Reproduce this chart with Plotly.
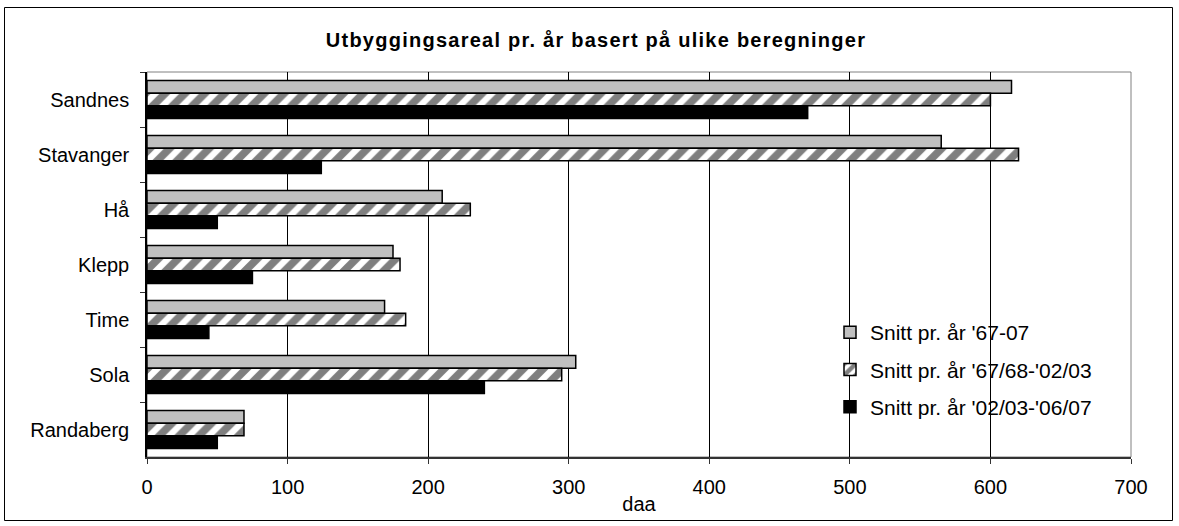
import plotly.graph_objects as go

categories = ["Sandnes", "Stavanger", "Hå", "Klepp", "Time", "Sola", "Randaberg"]
series_names = ["Snitt pr. år '67-07", "Snitt pr. år '67/68-'02/03", "Snitt pr. år '02/03-'06/07"]
snitt_67_07 = [615, 565, 210, 175, 169, 305, 69]
snitt_6768_0203 = [600, 620, 230, 180, 184, 295, 69]
snitt_0203_0607 = [470, 124, 50, 75, 44, 240, 50]
x_ticks = [0, 100, 200, 300, 400, 500, 600, 700]

FONT = "Liberation Sans, Arial, sans-serif"
W, H = 1179, 526
L, R, T, B = 147, 48, 72, 69

fig = go.Figure()
fig.add_trace(go.Bar(
    y=categories, x=snitt_67_07, name=series_names[0], orientation="h",
    marker=dict(color="#C0C0C0", line=dict(color="black", width=1.5)),
    legendgroup="a"))
fig.add_trace(go.Bar(
    y=categories, x=snitt_6768_0203, name=series_names[1], orientation="h",
    marker=dict(color="white", line=dict(color="black", width=1.5),
                pattern=dict(shape="/", fgcolor="black", bgcolor="white",
                             size=14, solidity=0.55, fillmode="overlay")),
    legendgroup="b"))
fig.add_trace(go.Bar(
    y=categories, x=snitt_0203_0607, name=series_names[2], orientation="h",
    marker=dict(color="black", line=dict(color="black", width=1.5)),
    legendgroup="c"))

pw = W - L - R
ph = H - T - B

def px_x(p):
    return (p - L) / pw

def px_y(p):
    return (H - B - p) / ph

shapes = [
    # outer chart border
    dict(type="rect", xref="paper", yref="paper",
         x0=px_x(4.5), x1=px_x(1172.5), y0=px_y(520.5), y1=px_y(7.5),
         line=dict(color="black", width=1), layer="below"),
    # plot area border (gray)
    dict(type="rect", xref="paper", yref="paper", x0=0, x1=1, y0=0, y1=1,
         line=dict(color="#808080", width=1), layer="below"),
]

fig.update_layout(
    width=W, height=H,
    margin=dict(l=L, r=R, t=T, b=B, pad=0, autoexpand=False),
    paper_bgcolor="white", plot_bgcolor="white",
    font=dict(family=FONT, size=20, color="black"),
    barmode="group", bargap=0.31, bargroupgap=0,
    title=dict(text="<span style='letter-spacing:1.25px'><b>Utbyggingsareal pr. år basert på ulike beregninger</b></span>",
               x=596 / W, xref="container", xanchor="center",
               y=1 - 40 / H, yref="container", yanchor="middle",
               font=dict(family=FONT, size=20, color="black")),
    showlegend=True,
    legend=dict(x=px_x(830), y=px_y(312), xanchor="left", yanchor="top",
                bgcolor="rgba(0,0,0,0)", borderwidth=0,
                font=dict(family=FONT, size=21, color="black"),
                tracegroupgap=7, traceorder="grouped", itemwidth=30),
    shapes=shapes,
    xaxis=dict(range=[0, 700], tickvals=x_ticks, ticktext=[str(v) for v in x_ticks],
               showgrid=True, gridcolor="black", gridwidth=1,
               showline=True, linecolor="#333333", linewidth=1.5,
               ticks="outside", ticklen=5, tickcolor="#333333", tickwidth=1,
               zeroline=False, automargin=False, ticklabelstandoff=6,
               title=dict(text="daa", standoff=0, font=dict(family=FONT, size=20)),
               fixedrange=True),
    yaxis=dict(categoryorder="array", categoryarray=categories, autorange="reversed",
               tickson="boundaries", ticks="outside", ticklen=5, tickcolor="#333333",
               showline=True, linecolor="black", linewidth=1.5, showgrid=False,
               ticklabelstandoff=12, automargin=False, fixedrange=True),
)

fig.write_html("out.html", config={"displayModeBar": False},
               post_script="document.body.style.margin='0';document.body.style.overflow='hidden';")
